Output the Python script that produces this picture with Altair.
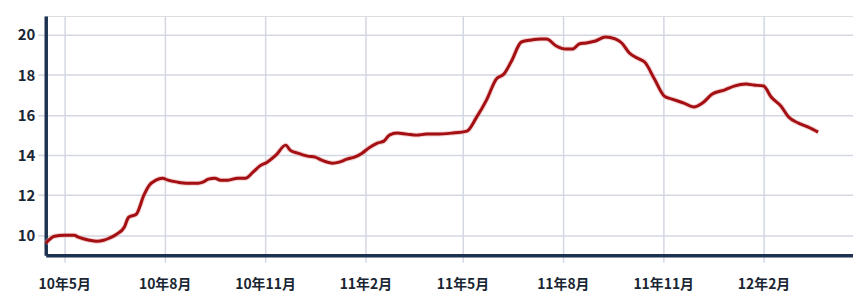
import altair as alt
import pandas as pd

dates = [
    "2010-04-14", "2010-04-22", "2010-05-01", "2010-05-10", "2010-05-14", "2010-05-24",
    "2010-05-31", "2010-06-06", "2010-06-11", "2010-06-18", "2010-06-25", "2010-06-29",
    "2010-07-06", "2010-07-13", "2010-07-18", "2010-07-24", "2010-07-30", "2010-08-04",
    "2010-08-13", "2010-08-22", "2010-09-01", "2010-09-05", "2010-09-10", "2010-09-16",
    "2010-09-21", "2010-09-28", "2010-10-07", "2010-10-14", "2010-10-21", "2010-10-27",
    "2010-11-03", "2010-11-11", "2010-11-20", "2010-11-24", "2010-12-01", "2010-12-10",
    "2010-12-17", "2010-12-23", "2011-01-02", "2011-01-08", "2011-01-15", "2011-01-22",
    "2011-01-29", "2011-02-04", "2011-02-12", "2011-02-18", "2011-02-23", "2011-03-02",
    "2011-03-11", "2011-03-20", "2011-03-29", "2011-04-07", "2011-04-21", "2011-05-05",
    "2011-05-14", "2011-05-23", "2011-06-01", "2011-06-08", "2011-06-15", "2011-06-24",
    "2011-07-03", "2011-07-12", "2011-07-17", "2011-07-26", "2011-08-04", "2011-08-10",
    "2011-08-16", "2011-08-22", "2011-08-31", "2011-09-09", "2011-09-18", "2011-09-24",
    "2011-10-01", "2011-10-10", "2011-10-15", "2011-10-24", "2011-11-02", "2011-11-09",
    "2011-11-20", "2011-11-29", "2011-12-07", "2011-12-16", "2011-12-27", "2012-01-05",
    "2012-01-16", "2012-01-23", "2012-02-01", "2012-02-08", "2012-02-17", "2012-02-24",
    "2012-03-04", "2012-03-13", "2012-03-22",
]
values = [
    9.6, 9.95, 10.0, 10.0, 9.9, 9.75,
    9.7, 9.75, 9.85, 10.05, 10.4, 10.9,
    11.05, 12.0, 12.5, 12.75, 12.85, 12.75,
    12.65, 12.6, 12.6, 12.65, 12.8, 12.85,
    12.75, 12.75, 12.85, 12.85, 13.15, 13.45,
    13.65, 14.0, 14.5, 14.25, 14.1, 13.95,
    13.9, 13.75, 13.6, 13.65, 13.8, 13.9,
    14.1, 14.35, 14.6, 14.7, 15.0, 15.1,
    15.05, 15.0, 15.05, 15.05, 15.1, 15.2,
    15.9, 16.75, 17.8, 18.05, 18.7, 19.65,
    19.75, 19.8, 19.8, 19.45, 19.3, 19.3,
    19.55, 19.6, 19.7, 19.9, 19.8, 19.6,
    19.1, 18.8, 18.65, 17.8, 16.95, 16.8,
    16.6, 16.4, 16.6, 17.05, 17.25, 17.45,
    17.55, 17.5, 17.45, 16.9, 16.45, 15.9,
    15.6, 15.4, 15.15,
]

tick_months = [(2010, 5), (2010, 8), (2010, 11), (2011, 2), (2011, 5), (2011, 8), (2011, 11), (2012, 2)]
y_ticks = [10, 12, 14, 16, 18, 20]

df = pd.DataFrame({"date": dates, "value": values})

navy = "#1b3350"
grid = "#d3d7e2"
font = "Noto Sans CJK SC"

x_enc = alt.X(
    "date:T",
    scale=alt.Scale(
        type="utc",
        domain=[alt.DateTime(year=2010, month=4, date=14, utc=True),
                alt.DateTime(year=2012, month=4, date=23, utc=True)],
    ),
    axis=alt.Axis(
        title=None,
        values=[alt.DateTime(year=y, month=m, date=1, utc=True) for y, m in tick_months],
        labelExpr="utcFormat(datum.value, '%y') + '年' + (utcmonth(datum.value) + 1) + '月'",
        grid=True, gridColor=grid, gridWidth=1.5,
        tickColor=grid, tickSize=7, tickWidth=1.5,
        domainColor=navy, domainWidth=3.5,
        labelFont=font, labelFontWeight="bold", labelFontSize=14, labelColor="#1a2633",
        labelPadding=15,
    ),
)
y_enc = alt.Y(
    "value:Q",
    scale=alt.Scale(domain=[9, 20.95], nice=False, zero=False),
    axis=alt.Axis(
        title=None, values=y_ticks,
        grid=True, gridColor=grid, gridWidth=1.5,
        tickColor=grid, tickSize=8, tickWidth=1.5,
        domainColor=navy, domainWidth=3.5,
        labelFont=font, labelFontWeight="bold", labelFontSize=15, labelColor="#1a2633",
        labelPadding=3,
    ),
)

halo = alt.Chart(df).mark_line(color="#e8a0a0", strokeWidth=5, opacity=0.5, interpolate="monotone").encode(x=x_enc, y=y_enc)
line = alt.Chart(df).mark_line(color="#a30f12", strokeWidth=3, interpolate="monotone").encode(x=x_enc, y=y_enc)

chart = (
    alt.layer(halo, line)
    .properties(
        width=813, height=241,
        autosize=alt.AutoSizeParams(type="none"),
        padding={"left": 38, "top": 7, "right": 0, "bottom": 40},
    )
    .configure_view(stroke=navy, strokeWidth=2)
    .configure(background="white")
)

chart.save("out.html", embed_options={"renderer": "svg", "actions": False})
